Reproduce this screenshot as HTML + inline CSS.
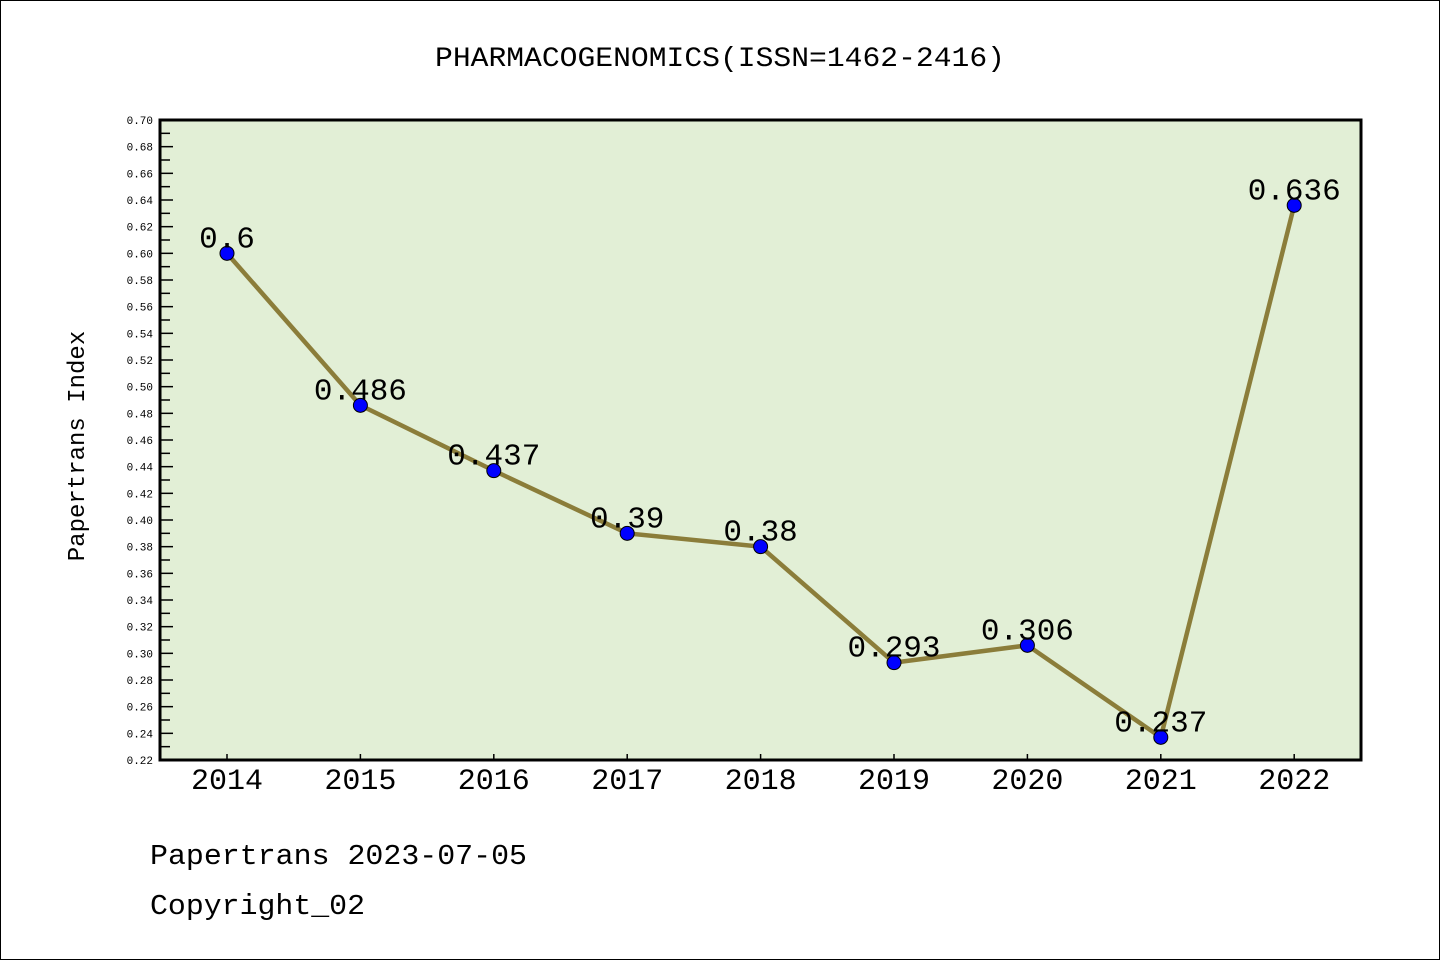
<!DOCTYPE html>
<html><head><meta charset="utf-8"><style>
body{margin:0;background:#fff}
svg{display:block}
text{font-family:"Liberation Mono","DejaVu Sans Mono",monospace}
</style></head><body>
<svg id="chart" width="1440" height="960">
<rect x="0.5" y="0.5" width="1439" height="959" fill="#fff" stroke="#000"/>
<text x="720" y="66" text-anchor="middle" font-size="28" textLength="570" lengthAdjust="spacingAndGlyphs">PHARMACOGENOMICS(ISSN=1462-2416)</text>
<rect x="160" y="120" width="1201" height="640" fill="#e2efd6"/>
<g id="yticks"></g>
<g id="xticks"></g>
<g id="series"></g>
<rect x="160" y="120" width="1201" height="640" fill="none" stroke="#000" stroke-width="3"/>
<text x="84" y="446" text-anchor="middle" font-size="24" transform="rotate(-90 84 446)">Papertrans Index</text>
<text x="150" y="864" font-size="29" textLength="377" lengthAdjust="spacingAndGlyphs">Papertrans 2023-07-05</text>
<text x="150" y="914" font-size="29" textLength="215" lengthAdjust="spacingAndGlyphs">Copyright_02</text>
</svg>
<script>
const years=["2014","2015","2016","2017","2018","2019","2020","2021","2022"];
const values=[0.6,0.486,0.437,0.39,0.38,0.293,0.306,0.237,0.636];
const labels=["0.6","0.486","0.437","0.39","0.38","0.293","0.306","0.237","0.636"];
const yMin=0.22,yMax=0.70;
const NS="http://www.w3.org/2000/svg";
function y(v){return 760-(v-yMin)/(yMax-yMin)*640;}
function x(i){return 227+i*133.4;}
function mk(t,a,p){const e=document.createElementNS(NS,t);for(const k in a)e.setAttribute(k,a[k]);p.appendChild(e);return e;}
const yt=document.getElementById('yticks');
for(let k=0;k<=48;k++){const v=yMin+k*0.01;const yy=y(v);
 const major=k%2===0;
 const l=mk('line',{x1:160,x2:major?173:170,y1:yy,y2:yy,stroke:'#000','stroke-width':1.5},yt);
 
 
 if(major){const t=mk('text',{x:153,y:yy+4,'text-anchor':'end','font-size':11,'font-family':'DejaVu Sans, sans-serif'},yt);t.textContent=v.toFixed(2);
 
 }
}
const xt=document.getElementById('xticks');
years.forEach((yr,i)=>{const l=mk('line',{x1:x(i),x2:x(i),y1:760,y2:754,stroke:'#000','stroke-width':1.5},xt);
 
 
 const t=mk('text',{x:x(i),y:789,'text-anchor':'middle','font-size':30,'font-family':'Liberation Sans, sans-serif'},xt);t.textContent=yr;
 
 });
const s=document.getElementById('series');
const line=mk('polyline',{points:values.map((v,i)=>x(i)+','+y(v)).join(' '),fill:'none',stroke:'#8b7d3a','stroke-width':4.5},s);


values.forEach((v,i)=>{const c=mk('circle',{cx:x(i),cy:y(v),r:7,fill:'#0000ff',stroke:'#000','stroke-width':1},s);
 
 
 const t=mk('text',{x:x(i),y:y(v)-6,'text-anchor':'middle','font-size':31},s);t.textContent=labels[i];
 
 });
</script>
</body></html>
